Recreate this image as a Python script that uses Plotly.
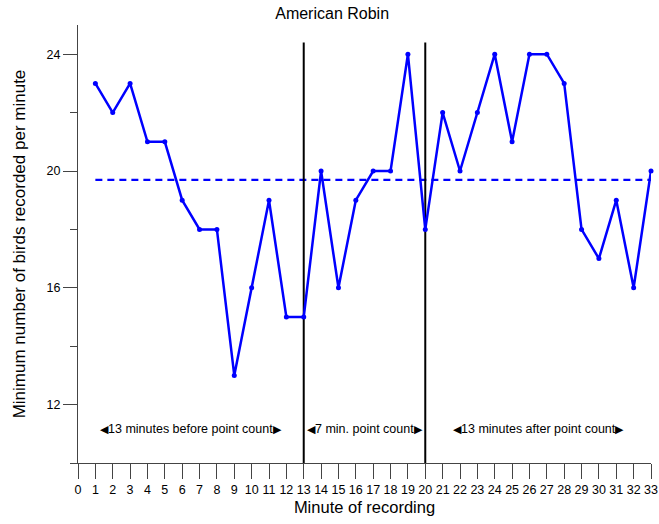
import numpy as np
import plotly.graph_objects as go

# Minute-by-minute counts of American Robin
minutes = list(range(1, 34))
counts = [23, 22, 23, 21, 21, 19, 18, 18, 13, 16, 19, 15, 15,
          20, 16, 19, 20, 20, 24, 18,
          22, 20, 22, 24, 21, 24, 24, 23, 18, 17, 19, 16, 20]

# Boundaries of the point-count period
phase_breaks = [13, 20]
break_top = 24.4

# Phase labels: centre minute and text
phase_centres = [6.5, 16.5, 26.5]
phase_texts = ["13 minutes before point count",
               "7 min. point count",
               "13 minutes after point count"]
label_y = 11.15

mean_count = float(np.mean(counts))

blue = "#0000FF"
axis_col = "#444444"
tri_l = "<span style='font-size:11px'>◀</span>"
tri_r = "<span style='font-size:11px'>▶</span>"

fig = go.Figure()

# Mean level across the whole recording
fig.add_trace(go.Scatter(
    x=[minutes[0], minutes[-1]], y=[mean_count, mean_count],
    mode="lines", line=dict(color=blue, width=2.2, dash="7px,5px"),
    hoverinfo="skip", showlegend=False))

# Vertical lines marking the point count
for b in phase_breaks:
    fig.add_trace(go.Scatter(
        x=[b, b], y=[10, break_top], mode="lines",
        line=dict(color="black", width=2), hoverinfo="skip",
        showlegend=False))

fig.add_trace(go.Scatter(
    x=minutes, y=counts, mode="lines+markers",
    line=dict(color=blue, width=2.5),
    marker=dict(color=blue, size=5),
    cliponaxis=False, showlegend=False))

for cx, txt in zip(phase_centres, phase_texts):
    fig.add_annotation(x=cx, y=label_y, text=tri_l + txt + tri_r,
                       showarrow=False, font=dict(size=12.5, color="black"))

fig.update_layout(
    width=659, height=524,
    margin=dict(l=78, r=8, t=25, b=61, autoexpand=False),
    paper_bgcolor="white", plot_bgcolor="white",
    font=dict(family="Liberation Sans, Arial, sans-serif", color="black"),
    title=dict(text="American Robin", x=0.504, xref="container", xanchor="center",
               y=0.985, yref="container", yanchor="top",
               font=dict(size=16, color="black")),
)

fig.update_xaxes(
    range=[0, 33], tickmode="linear", tick0=0, dtick=1,
    ticks="outside", ticklen=15, tickcolor=axis_col, tickwidth=1,
    showline=True, linecolor=axis_col, linewidth=1,
    showgrid=False, zeroline=False, automargin=False,
    tickfont=dict(size=12.5, color="black"),
    title=dict(text="Minute of recording", font=dict(size=16.5), standoff=5),
)

fig.update_yaxes(
    range=[10, 25], tickmode="linear", tick0=0, dtick=4,
    ticks="outside", ticklen=14, tickcolor=axis_col, tickwidth=1,
    minor=dict(dtick=2, tick0=0, ticks="outside", ticklen=7,
               tickcolor=axis_col, showgrid=False),
    showline=True, linecolor=axis_col, linewidth=1,
    showgrid=False, zeroline=False, automargin=False,
    tickfont=dict(size=12.5, color="black"),
    title=dict(text="Minimum number of birds recorded per minute",
               font=dict(size=17), standoff=16),
)

fig.write_html("out.html")
